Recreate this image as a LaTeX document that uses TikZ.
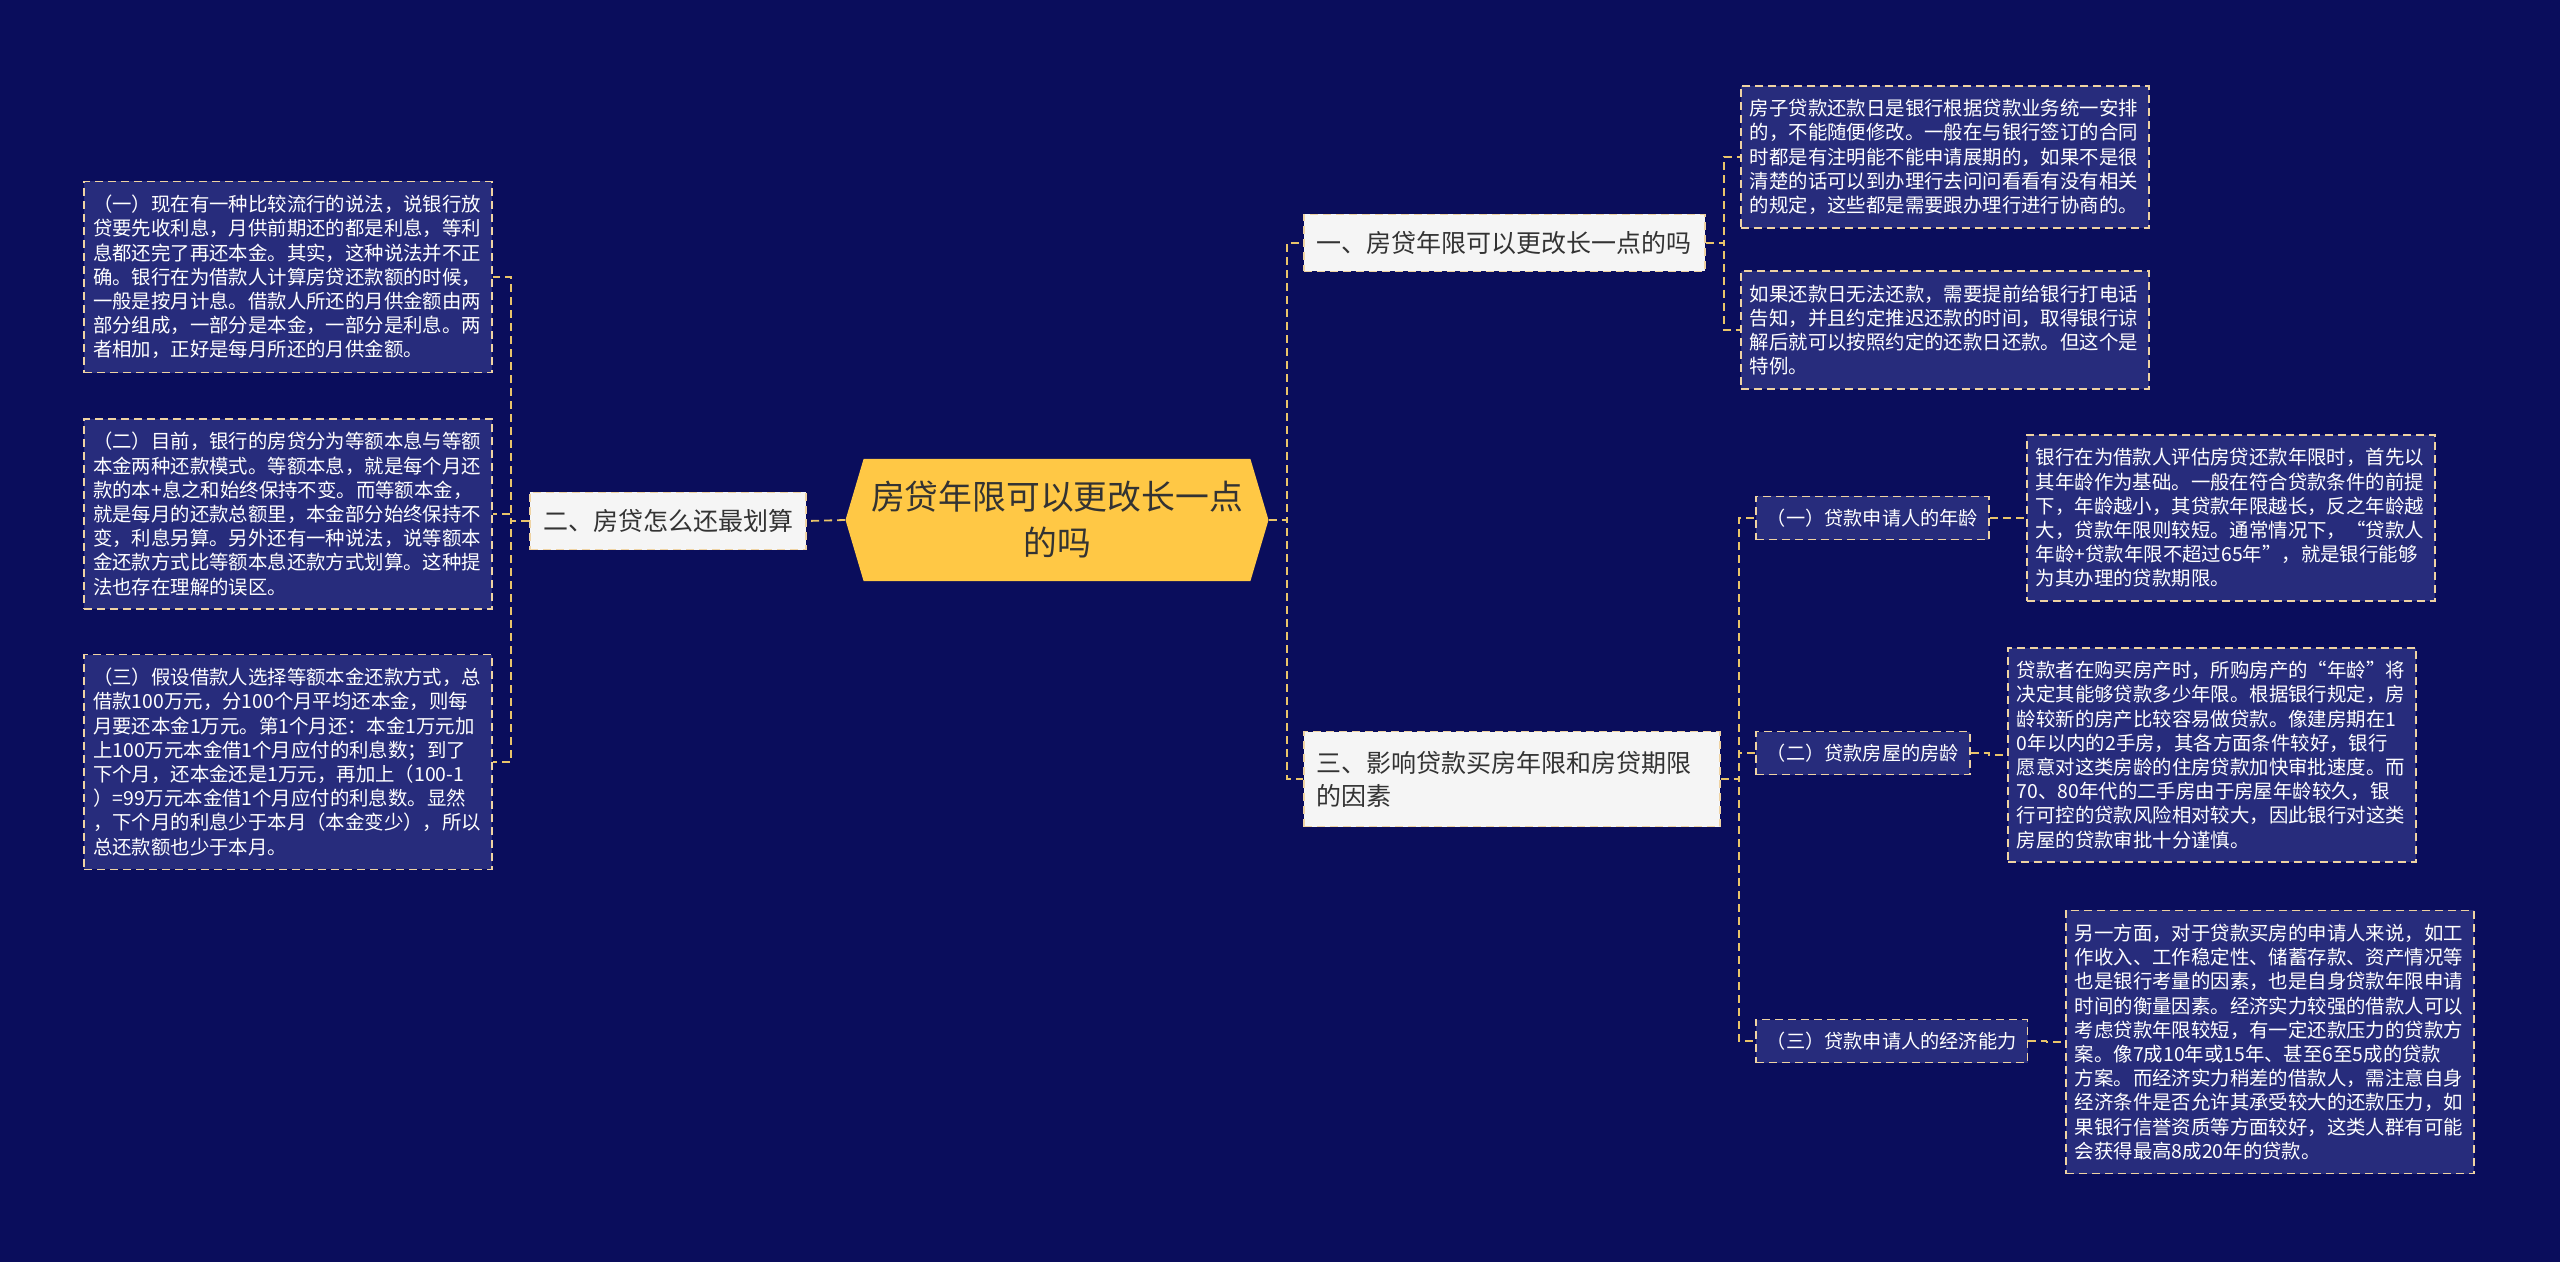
\documentclass[tikz,border=0pt]{standalone}
\usepackage{fontspec}
\setmainfont{Noto Sans CJK SC}
\usetikzlibrary{shapes.symbols, positioning}
\definecolor{bgnavy}{HTML}{0A0D5C}
\definecolor{leafblue}{HTML}{272C7C}
\definecolor{edgebeige}{HTML}{EFD3A3}
\definecolor{linkgold}{HTML}{E9C46A}
\definecolor{rootgold}{HTML}{FFC845}
\definecolor{textdark}{HTML}{333333}

\begin{document}
\begin{tikzpicture}[x=0.5pt, y=-0.5pt,
  root/.style={signal, signal to=east and west, signal pointer angle=147, fill=rootgold, minimum width=211.5pt, minimum height=61pt, align=center, text=textdark, font=\fontsize{16.9pt}{23pt}\selectfont, inner sep=0pt},
  branch/.style={rectangle, draw=edgebeige, dash pattern=on 4pt off 2.5pt, line width=0.9pt, fill=white!96!black, text=textdark, align=left, inner xsep=6.5pt, minimum height=28.5pt, font=\fontsize{12.5pt}{16.5pt}\selectfont},
  sub/.style={rectangle, draw=edgebeige, dash pattern=on 4pt off 2.5pt, line width=0.9pt, fill=leafblue, text=white, inner xsep=5.5pt, minimum height=21.5pt, font=\fontsize{9.6pt}{12pt}\selectfont},
  leaf/.style={rectangle, draw=edgebeige, dash pattern=on 4pt off 2.5pt, line width=0.9pt, fill=leafblue, text=white, text width=195pt, align=left, inner xsep=4.5pt, inner ysep=6.8pt, font=\fontsize{9.7pt}{12.1pt}\selectfont},
  link/.style={draw=linkgold, line width=0.9pt, dash pattern=on 4pt off 2.5pt},
]
\useasboundingbox[fill=bgnavy] (0,0) rectangle (2560,1262);

% centre
\node[root] (root) at (1057,520) {房贷年限可以更改长一点\\的吗};

% left side
\node[branch, anchor=east] (howpay) at (807,521) {二、房贷怎么还最划算};
\node[leaf, anchor=east] (myth) at (493,277) {（一）现在有一种比较流行的说法，说银行放\\贷要先收利息，月供前期还的都是利息，等利\\息都还完了再还本金。其实，这种说法并不正\\确。银行在为借款人计算房贷还款额的时候，\\一般是按月计息。借款人所还的月供金额由两\\部分组成，一部分是本金，一部分是利息。两\\者相加，正好是每月所还的月供金额。};
\node[leaf, anchor=east] (modes) at (493,514) {（二）目前，银行的房贷分为等额本息与等额\\本金两种还款模式。等额本息，就是每个月还\\款的本+息之和始终保持不变。而等额本金，\\就是每月的还款总额里，本金部分始终保持不\\变，利息另算。另外还有一种说法，说等额本\\金还款方式比等额本息还款方式划算。这种提\\法也存在理解的误区。};
\node[leaf, anchor=east] (example) at (493,762) {（三）假设借款人选择等额本金还款方式，总\\借款100万元，分100个月平均还本金，则每\\月要还本金1万元。第1个月还：本金1万元加\\上100万元本金借1个月应付的利息数；到了\\下个月，还本金还是1万元，再加上（100-1\\）=99万元本金借1个月应付的利息数。显然\\，下个月的利息少于本月（本金变少），所以\\总还款额也少于本月。};

% right side, first branch
\node[branch, anchor=west] (change) at (1303,243) {一、房贷年限可以更改长一点的吗};
\node[leaf, anchor=west] (dueday) at (1740,157) {房子贷款还款日是银行根据贷款业务统一安排\\的，不能随便修改。一般在与银行签订的合同\\时都是有注明能不能申请展期的，如果不是很\\清楚的话可以到办理行去问问看看有没有相关\\的规定，这些都是需要跟办理行进行协商的。};
\node[leaf, anchor=west] (delay) at (1740,330) {如果还款日无法还款，需要提前给银行打电话\\告知，并且约定推迟还款的时间，取得银行谅\\解后就可以按照约定的还款日还款。但这个是\\特例。};

% right side, third branch
\node[branch, anchor=west, text width=195pt, minimum height=47.5pt] (factors) at (1303,779) {三、影响贷款买房年限和房贷期限\\的因素};
\node[sub, anchor=west] (age) at (1755,518) {（一）贷款申请人的年龄};
\node[sub, anchor=west] (houseage) at (1755,753) {（二）贷款房屋的房龄};
\node[sub, anchor=west] (income) at (1755,1041) {（三）贷款申请人的经济能力};
\node[leaf, anchor=west] (agetxt) at (2026,518) {银行在为借款人评估房贷还款年限时，首先以\\其年龄作为基础。一般在符合贷款条件的前提\\下，年龄越小，其贷款年限越长，反之年龄越\\大，贷款年限则较短。通常情况下，“贷款人\\年龄+贷款年限不超过65年”，就是银行能够\\为其办理的贷款期限。};
\node[leaf, anchor=west] (housetxt) at (2007,755) {贷款者在购买房产时，所购房产的“年龄”将\\决定其能够贷款多少年限。根据银行规定，房\\龄较新的房产比较容易做贷款。像建房期在1\\0年以内的2手房，其各方面条件较好，银行\\愿意对这类房龄的住房贷款加快审批速度。而\\70、80年代的二手房由于房屋年龄较久，银\\行可控的贷款风险相对较大，因此银行对这类\\房屋的贷款审批十分谨慎。};
\node[leaf, anchor=west] (incometxt) at (2065,1042) {另一方面，对于贷款买房的申请人来说，如工\\作收入、工作稳定性、储蓄存款、资产情况等\\也是银行考量的因素，也是自身贷款年限申请\\时间的衡量因素。经济实力较强的借款人可以\\考虑贷款年限较短，有一定还款压力的贷款方\\案。像7成10年或15年、甚至6至5成的贷款\\方案。而经济实力稍差的借款人，需注意自身\\经济条件是否允许其承受较大的还款压力，如\\果银行信誉资质等方面较好，这类人群有可能\\会获得最高8成20年的贷款。};

% connectors
\draw[link] (root.west) -- (howpay.east);
\draw[link] (howpay.west) -- ++(-18,0) |- (myth.east);
\draw[link] (howpay.west) -- ++(-18,0) |- (modes.east);
\draw[link] (howpay.west) -- ++(-18,0) |- (example.east);
\draw[link] (root.east) -- ++(18,0) |- (change.west);
\draw[link] (root.east) -- ++(18,0) |- (factors.west);
\draw[link] (change.east) -- ++(18,0) |- (dueday.west);
\draw[link] (change.east) -- ++(18,0) |- (delay.west);
\draw[link] (factors.east) -- ++(18,0) |- (age.west);
\draw[link] (factors.east) -- ++(18,0) |- (houseage.west);
\draw[link] (factors.east) -- ++(18,0) |- (income.west);
\draw[link] (age.east) -- ++(18,0) |- (agetxt.west);
\draw[link] (houseage.east) -- ++(18,0) |- (housetxt.west);
\draw[link] (income.east) -- ++(18,0) |- (incometxt.west);

\end{tikzpicture}
\end{document}
